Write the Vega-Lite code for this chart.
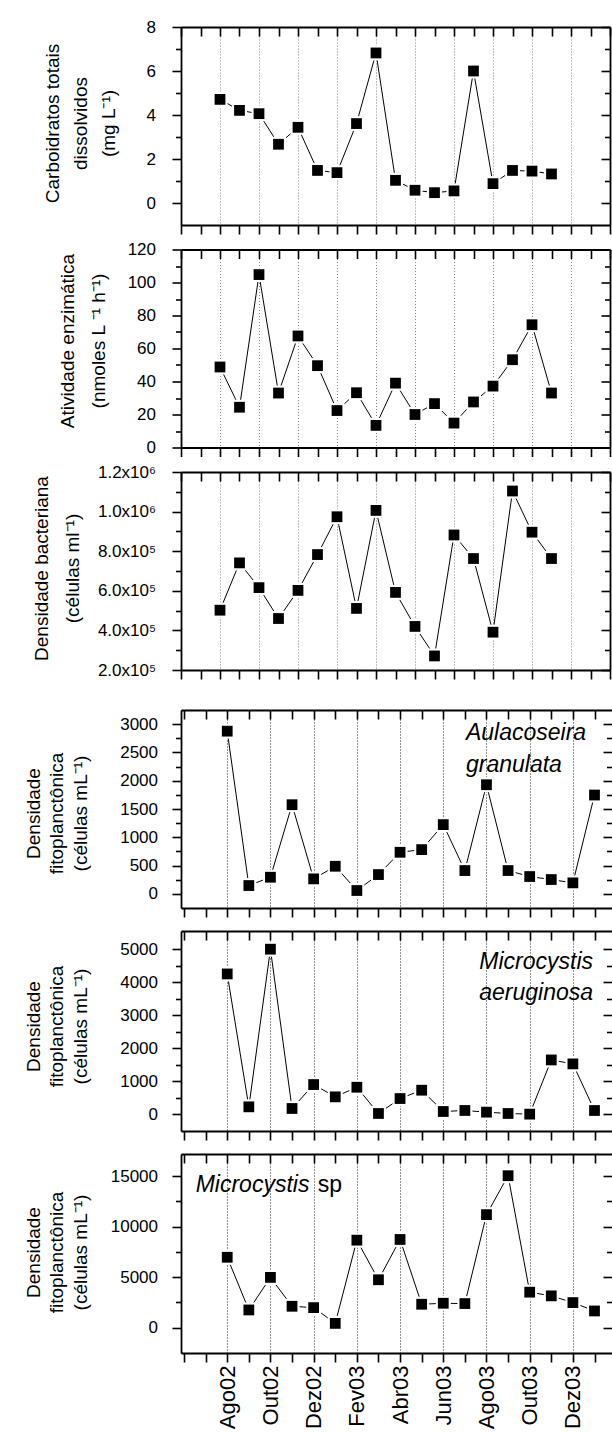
{
  "$schema": "https://vega.github.io/schema/vega-lite/v6.json",
  "background": "white",
  "padding": {"left": 24, "top": 18, "right": 0, "bottom": 0},
  "config": {
    "font": "Liberation Sans",
    "view": {"stroke": null},
    "axis": {
      "labelFont": "Liberation Sans", "titleFont": "Liberation Sans",
      "labelFontSize": 17, "titleFontSize": 19, "titleFontWeight": "normal",
      "domainColor": "black", "tickColor": "black", "labelColor": "black", "titleColor": "black",
      "domainWidth": 1.8, "tickWidth": 1.6, "labelOverlap": false, "labelFlush": false,
      "grid": false, "titlePadding": 0
    },
    "text": {"font": "Liberation Sans"}
  },
  "datasets": {
    "medidas": [
      {"k": 2, "mes": "Ago02", "carb": 4.71, "enz": 48.8, "bac": 502000, "aul": 2876, "mae": 4251, "msp": 6977},
      {"k": 3, "mes": "Set02", "carb": 4.21, "enz": 24.4, "bac": 741000, "aul": 147, "mae": 231, "msp": 1761},
      {"k": 4, "mes": "Out02", "carb": 4.06, "enz": 104.8, "bac": 616000, "aul": 294, "mae": 5000, "msp": 4983},
      {"k": 5, "mes": "Nov02", "carb": 2.67, "enz": 33.0, "bac": 460000, "aul": 1576, "mae": 181, "msp": 2126},
      {"k": 6, "mes": "Dez02", "carb": 3.44, "enz": 67.6, "bac": 602000, "aul": 265, "mae": 905, "msp": 1993},
      {"k": 7, "mes": "Jan03", "carb": 1.48, "enz": 49.6, "bac": 783000, "aul": 488, "mae": 533, "msp": 432},
      {"k": 8, "mes": "Fev03", "carb": 1.38, "enz": 22.4, "bac": 974000, "aul": 59, "mae": 824, "msp": 8671},
      {"k": 9, "mes": "Mar03", "carb": 3.61, "enz": 33.2, "bac": 511000, "aul": 341, "mae": 30, "msp": 4751},
      {"k": 10, "mes": "Abr03", "carb": 6.82, "enz": 13.4, "bac": 1006000, "aul": 735, "mae": 482, "msp": 8738},
      {"k": 11, "mes": "Mai03", "carb": 1.03, "enz": 39.0, "bac": 592000, "aul": 782, "mae": 734, "msp": 2326},
      {"k": 12, "mes": "Jun03", "carb": 0.58, "enz": 20.0, "bac": 420000, "aul": 1224, "mae": 90, "msp": 2425},
      {"k": 13, "mes": "Jul03", "carb": 0.47, "enz": 26.6, "bac": 271000, "aul": 412, "mae": 121, "msp": 2392},
      {"k": 14, "mes": "Ago03", "carb": 0.55, "enz": 14.8, "bac": 882000, "aul": 1929, "mae": 70, "msp": 11196},
      {"k": 15, "mes": "Set03", "carb": 6.0, "enz": 27.6, "bac": 763000, "aul": 412, "mae": 30, "msp": 15050},
      {"k": 16, "mes": "Out03", "carb": 0.88, "enz": 37.2, "bac": 391000, "aul": 306, "mae": 10, "msp": 3522},
      {"k": 17, "mes": "Nov03", "carb": 1.48, "enz": 53.2, "bac": 1104000, "aul": 253, "mae": 1650, "msp": 3156},
      {"k": 18, "mes": "Dez03", "carb": 1.45, "enz": 74.4, "bac": 896000, "aul": 194, "mae": 1530, "msp": 2492},
      {"k": 19, "mes": "Jan04", "carb": 1.32, "enz": 33.0, "bac": 763000, "aul": 1747, "mae": 120, "msp": 1661}
    ]
  },
  "data": {"name": "medidas"},
  "spacing": 29,
  "vconcat": [
    {
      "bounds": "flush",
      "spacing": 24.5,
      "vconcat": [
        {
          "width": 429, "height": 198,
          "resolve": {"axis": {"x": "independent", "y": "independent"}},
          "layer": [
            {
              "mark": {"type": "line", "color": "black", "strokeWidth": 1},
              "encoding": {
                "x": {"field": "k", "type": "quantitative", "scale": {"domain": [0, 22], "nice": false, "zero": false},
                  "axis": {"orient": "bottom", "values": [0,1,2,3,4,5,6,7,8,9,10,11,12,13,14,15,16,17,18,19,20,21,22], "labels": false, "title": null, "tickSize": 9,
                    "grid": true, "gridDash": [1, 2], "gridColor": "#808080", "gridWidth": 1,
                    "gridOpacity": {"condition": {"test": "datum.value % 2 == 0 && datum.value >= 2 && datum.value <= 20", "value": 1}, "value": 0}}},
                "y": {"field": "carb", "type": "quantitative", "scale": {"domain": [-1, 8], "nice": false, "zero": false},
                  "axis": {"orient": "left", "values": [0,1,2,3,4,5,6,7,8], "format": "d",
                    "labelExpr": "datum.value % 2 == 0 ? datum.label : ''",
                    "tickSize": {"condition": {"test": "datum.value % 2 == 0", "value": 9}, "value": 5.5},
                    "labelPadding": 16.5,
                    "title": ["Carboidratos totais", "dissolvidos", "(mg L⁻¹)"],
                    "titleX": -119, "titleY": 96, "titleLineHeight": 28, "titleAngle": 270, "titleAlign": "center", "titleBaseline": "bottom"}}
              }
            },
            {
              "mark": {"type": "point", "shape": "square", "filled": true, "color": "white", "size": 225, "opacity": 1},
              "encoding": {
                "x": {"field": "k", "type": "quantitative", "axis": {"orient": "top", "values": [0,1,2,3,4,5,6,7,8,9,10,11,12,13,14,15,16,17,18,19,20,21,22], "labels": false, "title": null, "tickSize": -9}},
                "y": {"field": "carb", "type": "quantitative", "axis": {"orient": "right", "values": [0,1,2,3,4,5,6,7,8], "labels": false, "title": null,
                  "tickSize": {"condition": {"test": "datum.value % 2 == 0", "value": -9}, "value": -5.5}}}
              }
            },
            {
              "mark": {"type": "point", "shape": "square", "filled": true, "color": "black", "size": 116, "opacity": 1},
              "encoding": {
                "x": {"field": "k", "type": "quantitative", "axis": null},
                "y": {"field": "carb", "type": "quantitative", "axis": null}
              }
            }
          ]
        },
        {
          "width": 429, "height": 198,
          "resolve": {"axis": {"x": "independent", "y": "independent"}},
          "layer": [
            {
              "mark": {"type": "line", "color": "black", "strokeWidth": 1},
              "encoding": {
                "x": {"field": "k", "type": "quantitative", "scale": {"domain": [0, 22], "nice": false, "zero": false},
                  "axis": {"orient": "bottom", "values": [0,1,2,3,4,5,6,7,8,9,10,11,12,13,14,15,16,17,18,19,20,21,22], "labels": false, "title": null, "tickSize": 9,
                    "grid": true, "gridDash": [1, 2], "gridColor": "#808080", "gridWidth": 1,
                    "gridOpacity": {"condition": {"test": "datum.value % 2 == 0 && datum.value >= 2 && datum.value <= 20", "value": 1}, "value": 0}}},
                "y": {"field": "enz", "type": "quantitative", "scale": {"domain": [0, 120], "nice": false, "zero": false},
                  "axis": {"orient": "left", "values": [0,10,20,30,40,50,60,70,80,90,100,110,120], "format": "d",
                    "labelExpr": "datum.value % 20 == 0 ? datum.label : ''",
                    "tickSize": {"condition": {"test": "datum.value % 20 == 0", "value": 9}, "value": 5.5},
                    "labelPadding": 16.5,
                    "title": ["Atividade enzimática", "(nmoles L ⁻¹ h⁻¹)"],
                    "titleX": -104, "titleY": 91, "titleLineHeight": 31, "titleAngle": 270, "titleAlign": "center", "titleBaseline": "bottom"}}
              }
            },
            {
              "mark": {"type": "point", "shape": "square", "filled": true, "color": "white", "size": 225, "opacity": 1},
              "encoding": {
                "x": {"field": "k", "type": "quantitative", "axis": {"orient": "top", "values": [0,1,2,3,4,5,6,7,8,9,10,11,12,13,14,15,16,17,18,19,20,21,22], "labels": false, "title": null, "tickSize": -9}},
                "y": {"field": "enz", "type": "quantitative", "axis": {"orient": "right", "values": [0,10,20,30,40,50,60,70,80,90,100,110,120], "labels": false, "title": null,
                  "tickSize": {"condition": {"test": "datum.value % 20 == 0", "value": -9}, "value": -5.5}}}
              }
            },
            {
              "mark": {"type": "point", "shape": "square", "filled": true, "color": "black", "size": 116, "opacity": 1},
              "encoding": {
                "x": {"field": "k", "type": "quantitative", "axis": null},
                "y": {"field": "enz", "type": "quantitative", "axis": null}
              }
            }
          ]
        },
        {
          "width": 429, "height": 198,
          "resolve": {"axis": {"x": "independent", "y": "independent"}},
          "layer": [
            {
              "mark": {"type": "line", "color": "black", "strokeWidth": 1},
              "encoding": {
                "x": {"field": "k", "type": "quantitative", "scale": {"domain": [0, 22], "nice": false, "zero": false},
                  "axis": {"orient": "bottom", "values": [0,1,2,3,4,5,6,7,8,9,10,11,12,13,14,15,16,17,18,19,20,21,22], "labels": false, "title": null, "tickSize": 9,
                    "grid": true, "gridDash": [1, 2], "gridColor": "#808080", "gridWidth": 1,
                    "gridOpacity": {"condition": {"test": "datum.value % 2 == 0 && datum.value >= 2 && datum.value <= 20", "value": 1}, "value": 0}}},
                "y": {"field": "bac", "type": "quantitative", "scale": {"domain": [200000, 1200000], "nice": false, "zero": false},
                  "axis": {"orient": "left", "values": [200000,300000,400000,500000,600000,700000,800000,900000,1000000,1100000,1200000],
                    "labelExpr": "(datum.value / 100000) % 2 == 0 ? (datum.value >= 1000000 ? format(datum.value / 1000000, '.1f') + 'x10⁶' : format(datum.value / 100000, '.1f') + 'x10⁵') : ''",
                    "tickSize": {"condition": {"test": "(datum.value / 100000) % 2 == 0", "value": 9}, "value": 5.5},
                    "labelPadding": 16.5,
                    "title": ["Densidade bacteriana", "(células ml⁻¹)"],
                    "titleX": -130, "titleY": 96, "titleLineHeight": 31, "titleAngle": 270, "titleAlign": "center", "titleBaseline": "bottom"}}
              }
            },
            {
              "mark": {"type": "point", "shape": "square", "filled": true, "color": "white", "size": 225, "opacity": 1},
              "encoding": {
                "x": {"field": "k", "type": "quantitative", "axis": {"orient": "top", "values": [0,1,2,3,4,5,6,7,8,9,10,11,12,13,14,15,16,17,18,19,20,21,22], "labels": false, "title": null, "tickSize": -9}},
                "y": {"field": "bac", "type": "quantitative", "axis": {"orient": "right", "values": [200000,300000,400000,500000,600000,700000,800000,900000,1000000,1100000,1200000], "labels": false, "title": null,
                  "tickSize": {"condition": {"test": "(datum.value / 100000) % 2 == 0", "value": -9}, "value": -5.5}}}
              }
            },
            {
              "mark": {"type": "point", "shape": "square", "filled": true, "color": "black", "size": 116, "opacity": 1},
              "encoding": {
                "x": {"field": "k", "type": "quantitative", "axis": null},
                "y": {"field": "bac", "type": "quantitative", "axis": null}
              }
            }
          ]
        }
      ]
    },
    {
      "bounds": "flush",
      "spacing": 23,
      "vconcat": [
        {
          "width": 431, "height": 198,
          "resolve": {"axis": {"x": "independent", "y": "independent"}},
          "layer": [
            {
              "mark": {"type": "line", "color": "black", "strokeWidth": 1},
              "encoding": {
                "x": {"field": "k", "type": "quantitative", "scale": {"domain": [-0.14, 19.81], "nice": false, "zero": false},
                  "axis": {"orient": "bottom", "values": [0,1,2,3,4,5,6,7,8,9,10,11,12,13,14,15,16,17,18,19], "labels": false, "title": null, "tickSize": 9,
                    "grid": true, "gridDash": [1, 2], "gridColor": "#222222", "gridWidth": 1,
                    "gridOpacity": {"condition": {"test": "datum.value % 2 == 0 && datum.value >= 2 && datum.value <= 18", "value": 1}, "value": 0}}},
                "y": {"field": "aul", "type": "quantitative", "scale": {"domain": [-250, 3250], "nice": false, "zero": false},
                  "axis": {"orient": "left", "values": [0,250,500,750,1000,1250,1500,1750,2000,2250,2500,2750,3000], "format": "d",
                    "labelExpr": "datum.value % 500 == 0 ? datum.label : ''",
                    "tickSize": {"condition": {"test": "datum.value % 500 == 0", "value": 9}, "value": 5.5},
                    "labelPadding": 14.5,
                    "title": ["Densidade", "fitoplanctônica", "(células mL⁻¹)"],
                    "titleX": -138, "titleY": 103, "titleLineHeight": 23.6, "titleAngle": 270, "titleAlign": "center", "titleBaseline": "bottom"}}
              }
            },
            {
              "mark": {"type": "point", "shape": "square", "filled": true, "color": "white", "size": 225, "opacity": 1},
              "encoding": {
                "x": {"field": "k", "type": "quantitative", "axis": {"orient": "top", "values": [0,1,2,3,4,5,6,7,8,9,10,11,12,13,14,15,16,17,18,19], "labels": false, "title": null, "tickSize": -9}},
                "y": {"field": "aul", "type": "quantitative", "axis": {"orient": "right", "domain": false, "values": [0,250,500,750,1000,1250,1500,1750,2000,2250,2500,2750,3000], "labels": false, "title": null,
                  "tickSize": {"condition": {"test": "datum.value % 500 == 0", "value": -9}, "value": -5.5}}}
              }
            },
            {
              "mark": {"type": "point", "shape": "square", "filled": true, "color": "black", "size": 116, "opacity": 1},
              "encoding": {
                "x": {"field": "k", "type": "quantitative", "axis": null},
                "y": {"field": "aul", "type": "quantitative", "axis": null}
              }
            },
            {
              "data": {"values": [{"nome": "Aulacoseira"}]},
              "mark": {"type": "text", "fontStyle": "italic", "fontSize": 23, "align": "left", "baseline": "alphabetic", "color": "black"},
              "encoding": {
                "text": {"field": "nome"},
                "x": {"datum": 13.05, "type": "quantitative", "axis": null},
                "y": {"datum": 2721, "type": "quantitative", "axis": null}
              }
            },
            {
              "data": {"values": [{"nome": "granulata"}]},
              "mark": {"type": "text", "fontStyle": "italic", "fontSize": 23, "align": "left", "baseline": "alphabetic", "color": "black"},
              "encoding": {
                "text": {"field": "nome"},
                "x": {"datum": 13.05, "type": "quantitative", "axis": null},
                "y": {"datum": 2150, "type": "quantitative", "axis": null}
              }
            }
          ]
        },
        {
          "width": 431, "height": 200,
          "resolve": {"axis": {"x": "independent", "y": "independent"}},
          "layer": [
            {
              "mark": {"type": "line", "color": "black", "strokeWidth": 1},
              "encoding": {
                "x": {"field": "k", "type": "quantitative", "scale": {"domain": [-0.14, 19.81], "nice": false, "zero": false},
                  "axis": {"orient": "bottom", "values": [0,1,2,3,4,5,6,7,8,9,10,11,12,13,14,15,16,17,18,19], "labels": false, "title": null, "tickSize": 9,
                    "grid": true, "gridDash": [1, 2], "gridColor": "#222222", "gridWidth": 1,
                    "gridOpacity": {"condition": {"test": "datum.value % 2 == 0 && datum.value >= 2 && datum.value <= 18", "value": 1}, "value": 0}}},
                "y": {"field": "mae", "type": "quantitative", "scale": {"domain": [-500, 5550], "nice": false, "zero": false},
                  "axis": {"orient": "left", "values": [0,500,1000,1500,2000,2500,3000,3500,4000,4500,5000], "format": "d",
                    "labelExpr": "datum.value % 1000 == 0 ? datum.label : ''",
                    "tickSize": {"condition": {"test": "datum.value % 1000 == 0", "value": 9}, "value": 5.5},
                    "labelPadding": 14.5,
                    "title": ["Densidade", "fitoplanctônica", "(células mL⁻¹)"],
                    "titleX": -138, "titleY": 95, "titleLineHeight": 23.6, "titleAngle": 270, "titleAlign": "center", "titleBaseline": "bottom"}}
              }
            },
            {
              "mark": {"type": "point", "shape": "square", "filled": true, "color": "white", "size": 225, "opacity": 1},
              "encoding": {
                "x": {"field": "k", "type": "quantitative", "axis": {"orient": "top", "values": [0,1,2,3,4,5,6,7,8,9,10,11,12,13,14,15,16,17,18,19], "labels": false, "title": null, "tickSize": -9}},
                "y": {"field": "mae", "type": "quantitative", "axis": {"orient": "right", "domain": false, "values": [0,500,1000,1500,2000,2500,3000,3500,4000,4500,5000], "labels": false, "title": null,
                  "tickSize": {"condition": {"test": "datum.value % 1000 == 0", "value": -9}, "value": -5.5}}}
              }
            },
            {
              "mark": {"type": "point", "shape": "square", "filled": true, "color": "black", "size": 116, "opacity": 1},
              "encoding": {
                "x": {"field": "k", "type": "quantitative", "axis": null},
                "y": {"field": "mae", "type": "quantitative", "axis": null}
              }
            },
            {
              "data": {"values": [{"nome": "Microcystis"}]},
              "mark": {"type": "text", "fontStyle": "italic", "fontSize": 23, "align": "center", "baseline": "alphabetic", "color": "black"},
              "encoding": {
                "text": {"field": "nome"},
                "x": {"datum": 16.3, "type": "quantitative", "axis": null},
                "y": {"datum": 4401, "type": "quantitative", "axis": null}
              }
            },
            {
              "data": {"values": [{"nome": "aeruginosa"}]},
              "mark": {"type": "text", "fontStyle": "italic", "fontSize": 23, "align": "center", "baseline": "alphabetic", "color": "black"},
              "encoding": {
                "text": {"field": "nome"},
                "x": {"datum": 16.3, "type": "quantitative", "axis": null},
                "y": {"datum": 3463, "type": "quantitative", "axis": null}
              }
            }
          ]
        },
        {
          "width": 431, "height": 199,
          "resolve": {"axis": {"x": "independent", "y": "independent"}},
          "layer": [
            {
              "mark": {"type": "line", "color": "black", "strokeWidth": 1},
              "encoding": {
                "x": {"field": "k", "type": "quantitative", "scale": {"domain": [-0.14, 19.81], "nice": false, "zero": false},
                  "axis": {"orient": "bottom", "values": [0,1,2,3,4,5,6,7,8,9,10,11,12,13,14,15,16,17,18,19], "title": null, "tickSize": 9,
                    "labels": true, "labelAngle": 270, "labelFontSize": 22, "labelPadding": 3,
                    "labelExpr": "['', '', 'Ago02', '', 'Out02', '', 'Dez02', '', 'Fev03', '', 'Abr03', '', 'Jun03', '', 'Ago03', '', 'Out03', '', 'Dez03', ''][datum.value]",
                    "grid": true, "gridDash": [1, 2], "gridColor": "#222222", "gridWidth": 1,
                    "gridOpacity": {"condition": {"test": "datum.value % 2 == 0 && datum.value >= 2 && datum.value <= 18", "value": 1}, "value": 0}}},
                "y": {"field": "msp", "type": "quantitative", "scale": {"domain": [-2500, 17200], "nice": false, "zero": false},
                  "axis": {"orient": "left", "values": [0,2500,5000,7500,10000,12500,15000], "format": "d",
                    "labelExpr": "datum.value % 5000 == 0 ? datum.label : ''",
                    "tickSize": {"condition": {"test": "datum.value % 5000 == 0", "value": 9}, "value": 5.5},
                    "labelPadding": 14.5,
                    "title": ["Densidade", "fitoplanctônica", "(células mL⁻¹)"],
                    "titleX": -138, "titleY": 98, "titleLineHeight": 23.6, "titleAngle": 270, "titleAlign": "center", "titleBaseline": "bottom"}}
              }
            },
            {
              "mark": {"type": "point", "shape": "square", "filled": true, "color": "white", "size": 225, "opacity": 1},
              "encoding": {
                "x": {"field": "k", "type": "quantitative", "axis": {"orient": "top", "values": [0,1,2,3,4,5,6,7,8,9,10,11,12,13,14,15,16,17,18,19], "labels": false, "title": null, "tickSize": -9}},
                "y": {"field": "msp", "type": "quantitative", "axis": {"orient": "right", "domain": false, "values": [0,2500,5000,7500,10000,12500,15000], "labels": false, "title": null,
                  "tickSize": {"condition": {"test": "datum.value % 5000 == 0", "value": -9}, "value": -5.5}}}
              }
            },
            {
              "mark": {"type": "point", "shape": "square", "filled": true, "color": "black", "size": 116, "opacity": 1},
              "encoding": {
                "x": {"field": "k", "type": "quantitative", "axis": null},
                "y": {"field": "msp", "type": "quantitative", "axis": null}
              }
            },
            {
              "data": {"values": [{"nome": "Microcystis"}]},
              "mark": {"type": "text", "fontStyle": "italic", "fontSize": 23, "align": "left", "baseline": "alphabetic", "color": "black"},
              "encoding": {
                "text": {"field": "nome"},
                "x": {"datum": 0.54, "type": "quantitative", "axis": null},
                "y": {"datum": 13394, "type": "quantitative", "axis": null}
              }
            },
            {
              "data": {"values": [{"nome": "sp"}]},
              "mark": {"type": "text", "fontSize": 23, "align": "left", "baseline": "alphabetic", "color": "black"},
              "encoding": {
                "text": {"field": "nome"},
                "x": {"datum": 6.19, "type": "quantitative", "axis": null},
                "y": {"datum": 13394, "type": "quantitative", "axis": null}
              }
            }
          ]
        }
      ]
    }
  ]
}
